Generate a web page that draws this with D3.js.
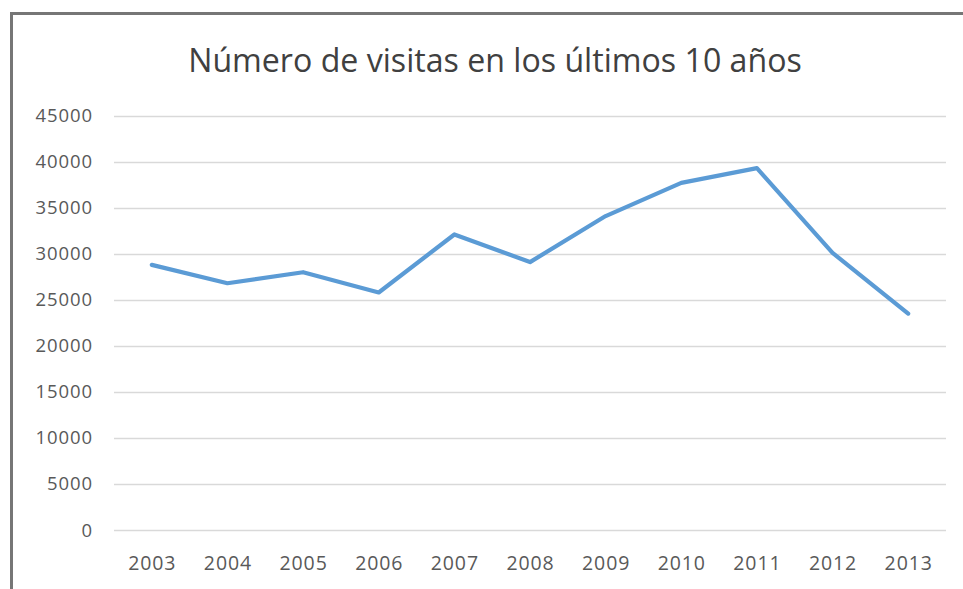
<!DOCTYPE html>
<html>
<head>
<meta charset="utf-8">
<script src="https://cdn.jsdelivr.net/npm/d3@7"></script>
<style>
  body { margin: 0; background: #fff; }
  text { font-family: "Open Sans", sans-serif; }
</style>
</head>
<body>
<div id="chart"></div>
<script>
var years = ["2003", "2004", "2005", "2006", "2007", "2008", "2009", "2010", "2011", "2012", "2013"];
var visits = [28800, 26800, 28000, 25800, 32100, 29100, 34100, 37700, 39300, 30100, 23500];
var yTicks = [0, 5000, 10000, 15000, 20000, 25000, 30000, 35000, 40000, 45000];
var title = "Número de visitas en los últimos 10 años";

var width = 963, height = 589;
var margin = {top: 115.7, right: 17, bottom: 59, left: 114};

var svg = d3.select("#chart").append("svg")
    .attr("width", width)
    .attr("height", height);

// chart frame (bottom and right are cut off in the picture)
svg.append("rect")
    .attr("x", 11.5).attr("y", 13.5)
    .attr("width", 970).attr("height", 600)
    .attr("fill", "none")
    .attr("stroke", "#767676")
    .attr("stroke-width", 3);

var x = d3.scaleBand().domain(years)
    .range([margin.left, width - margin.right]);
var y = d3.scaleLinear().domain([0, 45000])
    .range([height - margin.bottom, margin.top]);

// gridlines
svg.append("g")
    .selectAll("line")
    .data(yTicks)
    .enter().append("line")
    .attr("x1", margin.left)
    .attr("x2", width - margin.right)
    .attr("y1", function(d) { return Math.round(y(d)) + 0.5; })
    .attr("y2", function(d) { return Math.round(y(d)) + 0.5; })
    .attr("stroke", "#d9d9d9")
    .attr("stroke-width", 1.3);

// y labels
svg.append("g")
    .selectAll("text")
    .data(yTicks)
    .enter().append("text")
    .attr("x", 93)
    .attr("y", function(d) { return y(d) + 6.5; })
    .attr("text-anchor", "end")
    .attr("fill", "#595959")
    .style("font-size", "18.5px")
    .style("letter-spacing", "0.9px")
    .text(function(d) { return d; });

// x labels
svg.append("g")
    .selectAll("text")
    .data(years)
    .enter().append("text")
    .attr("x", function(d) { return x(d) + x.bandwidth() / 2 + 0.5; })
    .attr("y", 569.5)
    .attr("text-anchor", "middle")
    .attr("fill", "#595959")
    .style("font-size", "19.5px")
    .style("letter-spacing", "0.9px")
    .text(function(d) { return d; });

// the line
var line = d3.line()
    .x(function(d, i) { return x(years[i]) + x.bandwidth() / 2; })
    .y(function(d) { return y(d); });

svg.append("path")
    .datum(visits)
    .attr("d", line)
    .attr("fill", "none")
    .attr("stroke", "#5b9bd5")
    .attr("stroke-width", 4.2)
    .attr("stroke-linejoin", "round")
    .attr("stroke-linecap", "round");

// title, stretched to the width seen in the picture
var t = svg.append("text")
    .attr("x", 495)
    .attr("y", 72)
    .attr("text-anchor", "middle")
    .attr("fill", "#404040")
    .style("font-size", "29px")
    .text(title);
var w = t.node().getComputedTextLength();
t.style("font-size", (29 * 614 / w) + "px");
</script>
</body>
</html>
